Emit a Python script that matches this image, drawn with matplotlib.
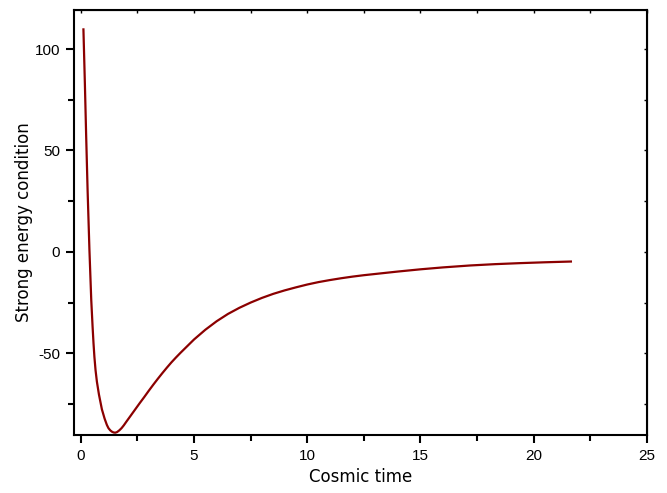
import matplotlib.pyplot as plt
from matplotlib.ticker import MultipleLocator

plt.rcParams['axes.unicode_minus'] = False

# values
t = [0.115, 0.18, 0.235, 0.3, 0.38, 0.46, 0.52, 0.56, 0.6, 0.65, 0.71, 0.8, 0.93, 1.05,
     1.15, 1.22, 1.3, 1.38, 1.45, 1.52, 1.6, 1.7, 1.8, 1.9, 2.0, 2.2, 2.4, 2.6, 2.8, 3.0,
     3.2, 3.4, 3.6, 3.8, 4.0, 4.2, 4.4, 4.7, 5.0, 5.5, 6.0, 6.5, 7.0, 7.5, 8.0,
     8.5, 9.0, 9.5, 10.0, 10.5, 11.0, 11.5, 12.0, 12.5, 13.0, 13.5, 14.0,
     15.0, 16.0, 17.2, 18.3, 19.4, 20.5, 21.65]
sec = [109.7, 82.5, 57.5, 30.0, 1.0, -23.6, -37.0, -45.0, -51.8, -58.3, -64.0, -70.3, -77.6, -82.2,
       -85.3, -86.9, -88.0, -88.7, -89.05, -89.15, -88.85, -88.0, -86.9, -85.5, -83.9, -80.8, -77.7, -74.6, -71.6, -68.5,
       -65.5, -62.6, -59.8, -57.1, -54.5, -52.1, -49.8, -46.5, -43.2, -38.4, -34.2, -30.6, -27.6, -25.0, -22.7,
       -20.7, -19.0, -17.5, -16.1, -14.9, -13.9, -13.0, -12.2, -11.5, -10.9, -10.3, -9.7,
       -8.6, -7.65, -6.7, -6.05, -5.55, -5.13, -4.76]

xticks = [0, 5, 10, 15, 20, 25]
yticks = [-50, 0, 50, 100]

fig = plt.figure(figsize=(6.67, 4.93), dpi=100)
ax = fig.add_axes([0.111, 0.1176, 0.8586, 0.8631])

ax.plot(t, sec, color='#8b0000', lw=1.6)

ax.set_xlim(-0.3, 25)
ax.set_ylim(-90.3, 119.5)
ax.set_xticks(xticks)
ax.set_yticks(yticks)
ax.xaxis.set_minor_locator(MultipleLocator(2.5))
ax.yaxis.set_minor_locator(MultipleLocator(25))

for s in ax.spines.values():
    s.set_linewidth(1.5)
ax.tick_params(which='major', direction='out', length=6, width=1.5,
               labelsize=11, pad=4)
ax.tick_params(which='minor', direction='out', length=4, width=1.5)
for lab in ax.get_xticklabels() + ax.get_yticklabels():
    lab.set_fontfamily('Liberation Sans')

# small inward ticks on the top and right edges
top = ax.secondary_xaxis('top')
top.set_xticks(xticks)
top.xaxis.set_minor_locator(MultipleLocator(2.5))
top.tick_params(which='both', direction='in', length=2, width=1, labeltop=False)
right = ax.secondary_yaxis('right')
right.set_yticks(yticks)
right.yaxis.set_minor_locator(MultipleLocator(25))
right.tick_params(which='both', direction='in', length=2, width=1, labelright=False)

ax.set_xlabel('Cosmic time', fontsize=12, fontfamily='DejaVu Sans', labelpad=4)
ax.set_ylabel('Strong energy condition', fontsize=12, fontfamily='DejaVu Sans', labelpad=1)

fig.savefig('out.png', dpi=100)
